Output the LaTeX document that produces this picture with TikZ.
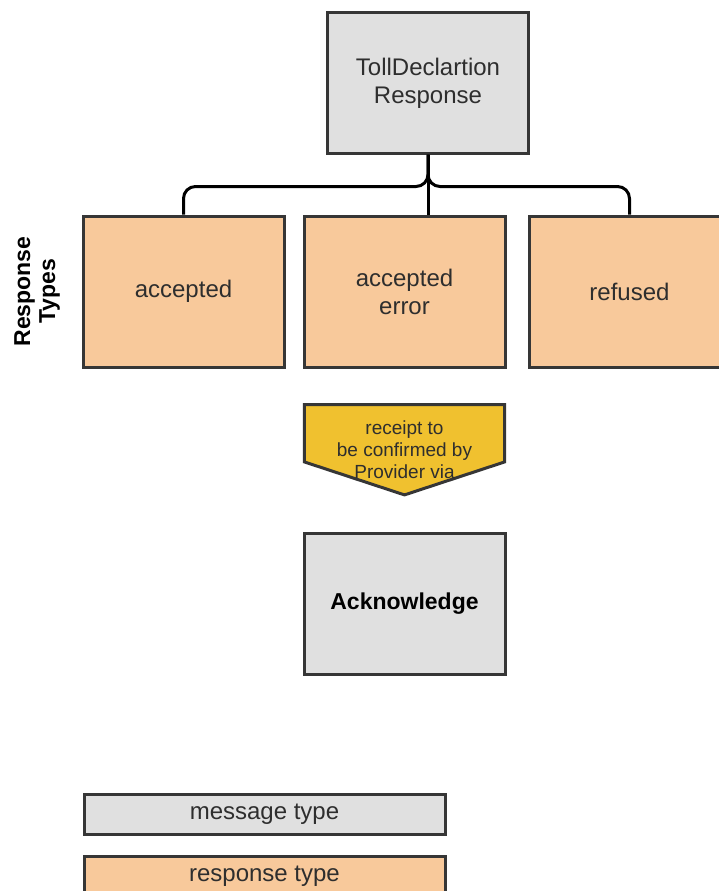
\documentclass[tikz,border=0pt]{standalone}
\usepackage{fontspec}
\setmainfont{Liberation Sans}
\usepackage{xcolor}
\usepackage{tikz}
\usetikzlibrary{positioning, backgrounds}
\definecolor{msgGray}{HTML}{E0E0E0}
\definecolor{respOrange}{HTML}{F8C99B}
\definecolor{noteYellow}{HTML}{F0C12F}
\definecolor{borderDark}{HTML}{363636}
\definecolor{textDark}{HTML}{2E2E2E}
\tikzset{box-line/.style={line width=3pt, draw=borderDark}}
\tikzset{bracket-line/.style={line width=3pt, draw=black}}
\tikzset{msg-node/.style={box-line, fill=msgGray, inner sep=0, minimum width=201pt, minimum height=140pt,
    align=center, text=textDark, font=\fontsize{24}{28}\selectfont}}
\tikzset{resp-node/.style={msg-node, fill=respOrange, minimum height=151pt}}
\tikzset{note-node/.style={inner sep=0, minimum width=200pt, minimum height=90pt,
    align=center, text=textDark, font=\fontsize{19}{22}\selectfont}}
\tikzset{legend-box/.style={msg-node, minimum width=361pt, minimum height=40pt}}

\begin{document}
\begin{tikzpicture}[x=1pt, y=-1pt]
    \clip (0,0) rectangle (719,891);

    % message and its response types
    \node[msg-node] (decl) at (428,83) {TollDeclartion\\Response};
    \node[resp-node] (err) at (404.5,291.5) {accepted\\error};
    \node[resp-node, left=17pt of err] (acc) {accepted};
    \node[resp-node, right=21pt of err] (ref) {refused};
    \node[rotate=90, align=center, font=\bfseries\fontsize{23}{25}\selectfont] (types) at (37,291.5) {Response\\Types};

    \draw[bracket-line] (decl.south) -- (decl.south |- err.north);
    \draw[bracket-line, rounded corners=12pt] (decl.south) -- ++(0,32) -| (acc.north);
    \draw[bracket-line, rounded corners=12pt] (decl.south) -- ++(0,32) -| (ref.north);

    % receipt note
    \node[note-node, below=36pt of err] (note) {receipt to\\be confirmed by\\Provider via};
    \begin{scope}[on background layer]
        \draw[box-line, fill=noteYellow] (note.north west) -- (note.north east)
            -- ([yshift=33pt]note.south east) -- (note.south)
            -- ([yshift=33pt]note.south west) -- cycle;
    \end{scope}

    \node[msg-node, below=37pt of note, minimum height=141pt, text=black,
          font=\bfseries\fontsize{23}{27}\selectfont] (ack) {Acknowledge};

    % legend
    \node[legend-box] (legmsg) at (264.5,814) {message type};
    \node[legend-box, fill=respOrange, below=19pt of legmsg] (legresp) {response type};
\end{tikzpicture}
\end{document}
